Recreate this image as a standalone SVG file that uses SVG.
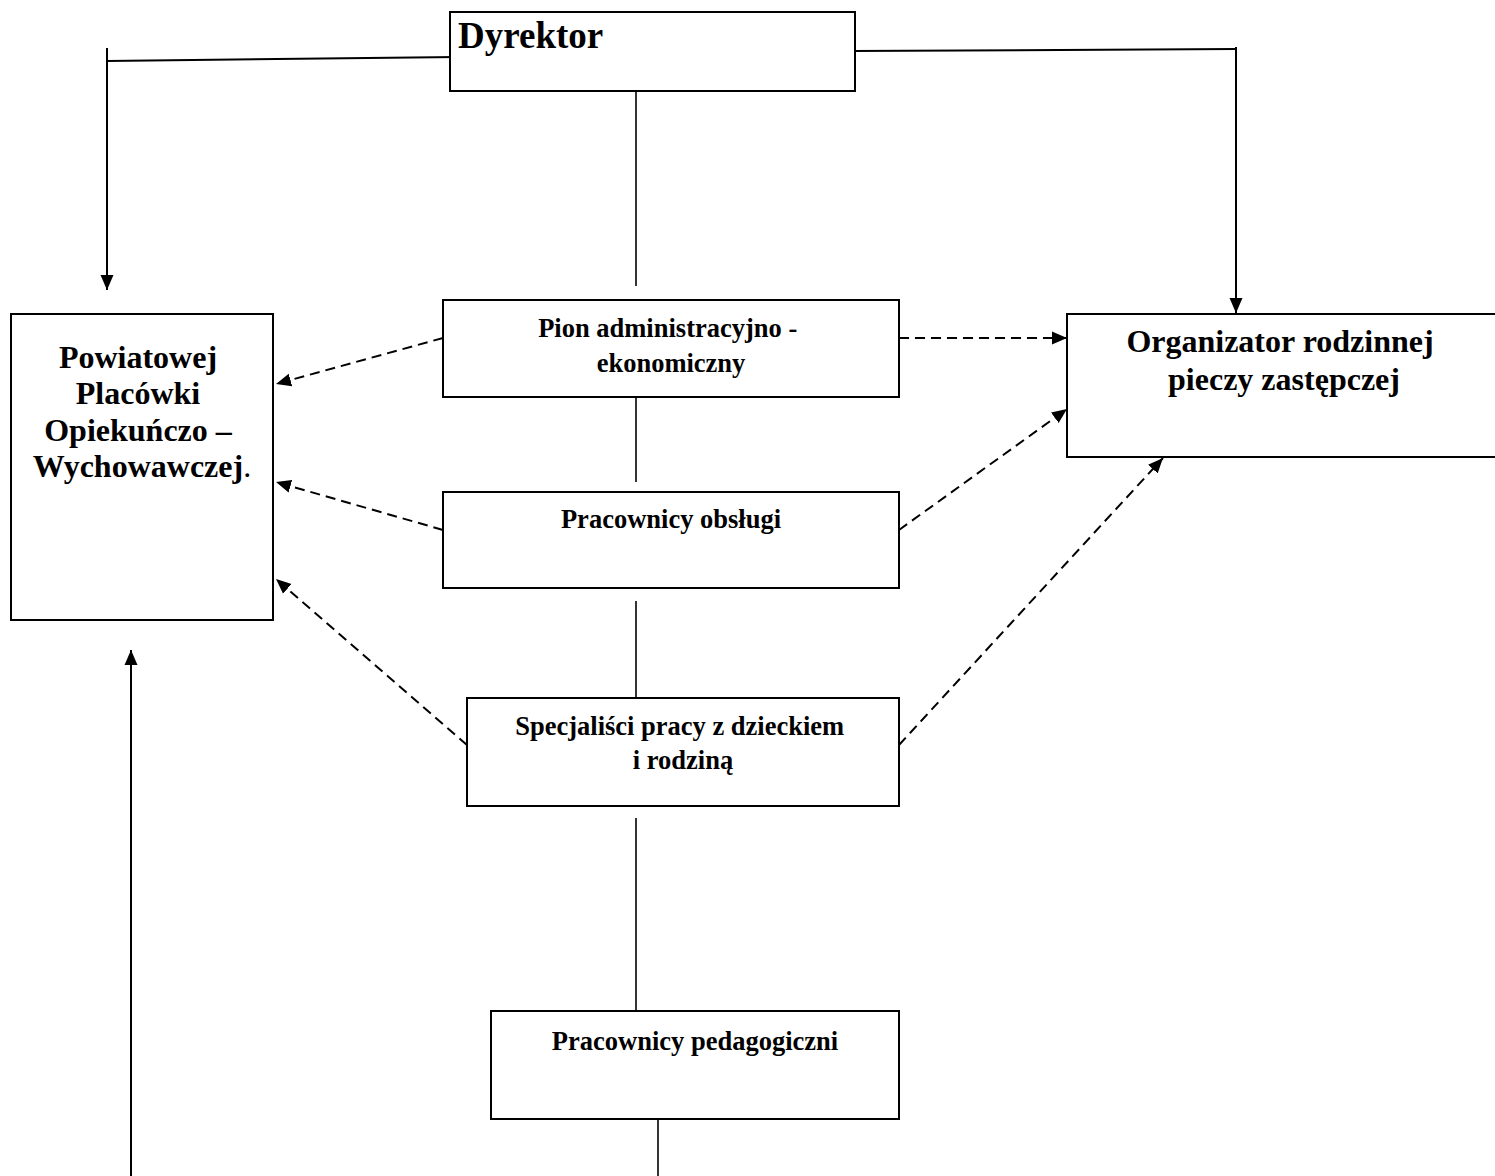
<svg xmlns="http://www.w3.org/2000/svg" width="1495" height="1176" viewBox="0 0 1495 1176">
<defs>
<style>
.box{fill:#fff;stroke:#000;stroke-width:2}
.t{font-family:"Liberation Serif","Times New Roman",serif;font-weight:bold;fill:#000}
.c{stroke:#000;stroke-width:2;fill:none}
.thin{stroke:#000;stroke-width:1.6;fill:none}
.d{stroke:#000;stroke-width:2;fill:none;stroke-dasharray:10 6}
</style>
<marker id="ah" markerUnits="userSpaceOnUse" markerWidth="16" markerHeight="14" refX="15" refY="6.5" orient="auto" viewBox="0 0 16 13">
<path d="M0,0 L15,6.5 L0,13 Z" fill="#000"/>
</marker>
</defs>
<rect width="1495" height="1176" fill="#fff"/>
<g id="connectors">
<polyline class="c" points="458,57 107,61"/>
<line class="c" x1="107" y1="48" x2="107" y2="290" marker-end="url(#ah)"/>
<polyline class="c" points="851,51 1236,49"/>
<line class="c" x1="1236" y1="47" x2="1236" y2="313" marker-end="url(#ah)"/>
<line class="thin" x1="636" y1="83" x2="636" y2="286"/>
<line class="thin" x1="636" y1="385" x2="636" y2="482"/>
<line class="thin" x1="636" y1="601" x2="636" y2="698"/>
<line class="thin" x1="636" y1="818" x2="636" y2="1010"/>
<line class="thin" x1="658" y1="1105" x2="658" y2="1176"/>
<line class="c" x1="131" y1="1176" x2="131" y2="650" marker-end="url(#ah)"/>
<line class="d" x1="443" y1="338" x2="276" y2="384" marker-end="url(#ah)"/>
<line class="d" x1="443" y1="530" x2="276" y2="482" marker-end="url(#ah)"/>
<line class="d" x1="467" y1="745" x2="276" y2="579" marker-end="url(#ah)"/>
<line class="d" x1="899" y1="338" x2="1067" y2="338" marker-end="url(#ah)"/>
<line class="d" x1="899" y1="530" x2="1067" y2="409" marker-end="url(#ah)"/>
<line class="d" x1="899" y1="745" x2="1163" y2="458" marker-end="url(#ah)"/>
</g>
<g id="dyrektor">
<rect class="box" x="450" y="12" width="405" height="79"/>
<text class="t" x="458" y="48" font-size="37">Dyrektor</text>
</g>
<g id="powiatowej">
<rect class="box" x="11" y="314" width="262" height="306"/>
<text class="t" font-size="32" text-anchor="middle">
<tspan x="142" y="368">Powiatowej</tspan>
<tspan x="142" y="404">Placówki</tspan>
<tspan x="142" y="441">Opiekuńczo –</tspan>
<tspan x="142" y="477">Wychowawczej<tspan font-weight="normal">.</tspan></tspan>
</text>
</g>
<g id="organizator">
<rect class="box" x="1067" y="314" width="440" height="143"/>
<text class="t" font-size="32" text-anchor="middle">
<tspan x="1284" y="352">Organizator rodzinnej</tspan>
<tspan x="1284" y="390">pieczy zastępczej</tspan>
</text>
</g>
<g id="pion">
<rect class="box" x="443" y="300" width="456" height="97"/>
<text class="t" font-size="26.5" text-anchor="middle">
<tspan x="671" y="337">Pion administracyjno -</tspan>
<tspan x="671" y="372">ekonomiczny</tspan>
</text>
</g>
<g id="obslugi">
<rect class="box" x="443" y="492" width="456" height="96"/>
<text class="t" font-size="26.5" text-anchor="middle" x="671" y="528">Pracownicy obsługi</text>
</g>
<g id="specjalisci">
<rect class="box" x="467" y="698" width="432" height="108"/>
<text class="t" font-size="26.5" text-anchor="middle">
<tspan x="683" y="735">Specjaliści pracy z dzieckiem</tspan>
<tspan x="683" y="769">i rodziną</tspan>
</text>
</g>
<g id="pedagogiczni">
<rect class="box" x="491" y="1011" width="408" height="108"/>
<text class="t" font-size="26.5" text-anchor="middle" x="695" y="1050">Pracownicy pedagogiczni</text>
</g>
</svg>
